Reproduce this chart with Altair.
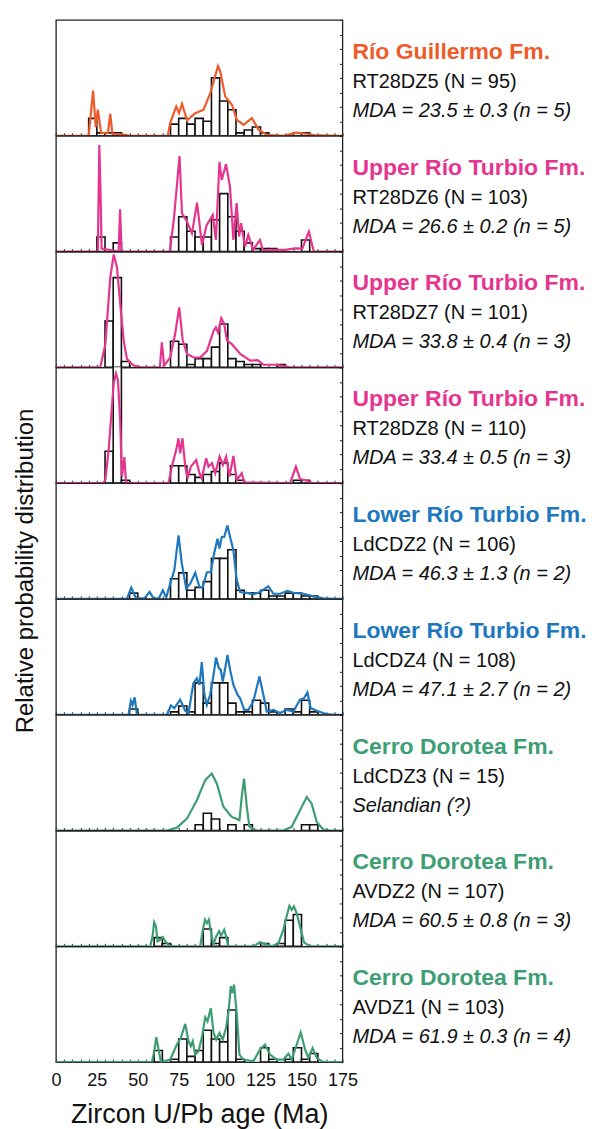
import altair as alt
import pandas as pd

FONT = "Liberation Sans"

# ---------------- panel annotations ----------------
formations = ["Río Guillermo Fm.", "Upper Río Turbio Fm.", "Upper Río Turbio Fm.",
              "Upper Río Turbio Fm.", "Lower Río Turbio Fm.", "Lower Río Turbio Fm.",
              "Cerro Dorotea Fm.", "Cerro Dorotea Fm.", "Cerro Dorotea Fm."]
samples = ["RT28DZ5 (N = 95)", "RT28DZ6 (N = 103)", "RT28DZ7 (N = 101)",
           "RT28DZ8 (N = 110)", "LdCDZ2 (N = 106)", "LdCDZ4 (N = 108)",
           "LdCDZ3 (N = 15)", "AVDZ2 (N = 107)", "AVDZ1 (N = 103)"]
notes = ["MDA = 23.5 ± 0.3 (n = 5)", "MDA = 26.6 ± 0.2 (n = 5)", "MDA = 33.8 ± 0.4 (n = 3)",
         "MDA = 33.4 ± 0.5 (n = 3)", "MDA = 46.3 ± 1.3 (n = 2)", "MDA = 47.1 ± 2.7 (n = 2)",
         "Selandian (?)", "MDA = 60.5 ± 0.8 (n = 3)", "MDA = 61.9 ± 0.3 (n = 4)"]
ORANGE, PINK, BLUE, GREEN = "#F05A28", "#E5358F", "#1E78BE", "#3E9E73"
colors = [ORANGE, PINK, PINK, PINK, BLUE, BLUE, GREEN, GREEN, GREEN]

BIN_WIDTH = 5

# ---------------- RT28DZ5 ----------------
rt28dz5_age = [0, 20, 22.7, 24.3, 25.6, 27.6, 30.5, 31.8, 33.2, 34.5, 42.6, 45, 68.3, 69.8, 73.5, 75.2,
               77.0, 80.1, 85.1, 90.2, 94.3, 99.0, 100.4, 103.4, 107.5, 110.5, 114.6, 119.7, 123.8,
               128.8, 139, 147, 153, 159, 175]
rt28dz5_pdp = [0, 0, 15.6, 3, 9, 1, 0.8, 1, 7.6, 0.7, 0.3, 0, 0, 4.4, 10.1, 7.8,
               11, 5.3, 7.8, 9, 14.7, 24.1, 22.2, 13.6, 10.7, 5.5, 3.8, 6.1, 2.1,
               0.3, 0, 1.1, 0.7, 0.1, 0]
rt28dz5_bins = [20, 25, 30, 35, 70, 75, 80, 85, 90, 95, 100, 105, 110, 115, 120, 125, 145, 150]
rt28dz5_counts = [6, 1, 1, 1, 4, 6, 4, 6, 5, 20, 12, 9, 1, 2, 3, 1, 1, 1]

# ---------------- RT28DZ6 ----------------
rt28dz6_age = [0, 25.6, 26.5, 27.2, 27.9, 38.3, 39.2, 40.1, 69.5, 72, 75.5, 77, 80.1, 83.1, 86.2,
               89.2, 92.0, 95.8, 97.7, 99.9, 101.3, 103.9, 106.3, 108.4, 110.4, 111.9, 113.1,
               115.5, 117.5, 120.5, 124.6, 126.6, 130, 140, 146, 150.5, 154.5, 157.5, 175]
rt28dz6_pdp = [0, 0, 36.8, 22, 1, 0, 14.6, 0, 0, 10.9, 33, 13.2, 10.3, 6.3, 16.9,
               2.3, 9, 12.6, 4, 31, 24.7, 30.2, 22.4, 4, 16.7, 5.2, 9.8,
               1.7, 5.7, 0.6, 4, 0.2, 0.6, 0.6, 1.1, 1, 6.9, 0, 0]
rt28dz6_bins = [25, 35, 70, 75, 80, 85, 90, 95, 100, 105, 110, 115, 120, 125, 130, 150]
rt28dz6_counts = [5, 3, 5, 12, 7, 5, 5, 11, 20, 12, 7, 3, 1, 1, 1, 4]

# ---------------- RT28DZ7 ----------------
rt28dz7_age = [0, 27.1, 30.2, 33.2, 35.3, 37.3, 39.3, 41.4, 43.4, 47.5, 52, 63.5, 64.7, 66.1,
               69.8, 72.8, 75.3, 77.5, 80.1, 84.1, 88.2, 92.3, 96.3, 97.7, 99, 101, 102.8,
               104.5, 107.5, 112.6, 118.7, 123.2, 126.8, 135, 143, 175]
rt28dz7_pdp = [0, 0, 8, 31, 39, 34.5, 21.8, 9.2, 2.9, 0.6, 0, 0, 8.6, 0.6,
               3.4, 11.5, 20.7, 9.2, 4.6, 3.4, 3.4, 5.7, 12.6, 13.8, 12, 17, 15,
               9.2, 8, 4.6, 2.3, 2.5, 0.9, 0.9, 0, 0]
rt28dz7_bins = [30, 35, 40, 70, 75, 80, 85, 90, 95, 100, 105, 110, 115, 120, 135]
rt28dz7_counts = [16, 31, 2, 9, 8, 1, 3, 3, 7, 15, 3, 2, 1, 1, 1]

# ---------------- RT28DZ8 ----------------
rt28dz8_age = [0, 29, 30.2, 32.2, 33.6, 35.3, 36.7, 37.9, 39.3, 40.3, 41.8, 42.8, 44, 68.8, 70.8,
               73.5, 74.9, 75.9, 77.3, 79, 80.4, 82.4, 85.7, 87.7, 89.1, 91.8, 93.2, 95.3, 97.3,
               100, 102, 104, 106, 108.4, 110.5, 113.5, 115, 143, 146.6, 149.1, 153.1, 157.2, 175]
rt28dz8_pdp = [0, 0, 1.1, 11.5, 21.8, 34.5, 37.9, 35.6, 20.7, 2.3, 9, 0.6, 0, 0, 5.7,
               11.5, 15.5, 10.3, 15.5, 5.7, 1.7, 5.7, 8, 3.4, 1.7, 8.6, 5.7, 6.9, 3.4,
               9.2, 6.3, 9.2, 2.3, 9.4, 1.1, 3.4, 0.2, 0, 5.7, 1.4, 0.9, 0, 0]
rt28dz8_bins = [30, 35, 40, 70, 75, 80, 85, 90, 95, 100, 105, 110, 145, 150]
rt28dz8_counts = [11, 45, 1, 6, 6, 3, 2, 3, 4, 7, 3, 1, 1, 1]

# ---------------- LdCDZ2 ----------------
ldcdz2_age = [0, 43.4, 46, 48.5, 50, 54, 57.2, 59.7, 63, 65.3, 67.4, 69.8, 72.3, 74.9, 76.9, 79.6,
              82, 85.1, 87.7, 89.7, 92.2, 94.6, 96.6, 98.7, 99.9, 101.3, 102.8, 104.8, 106.4,
              108.4, 110.5, 112.5, 116.6, 120.6, 124.7, 129.8, 132.8, 137, 141.4, 145, 151.1,
              157.2, 163.3, 169.4, 175]
ldcdz2_pdp = [0, 0, 3.9, 0.7, 0.3, 0.2, 2.4, 0.1, 0.3, 3, 0.5, 5.3, 9.9, 22, 12.2, 3.6,
              5.3, 9, 4.1, 4.1, 9.2, 9.3, 15.6, 20.8, 17.4, 21.4, 21.4, 25.4, 21.4,
              16.8, 6.4, 2.4, 2.1, 1.6, 2.4, 4.4, 1.8, 1.8, 2.8, 2.1, 1.8,
              0.9, 0.2, 0, 0]
ldcdz2_bins = [45, 70, 75, 80, 85, 90, 95, 100, 105, 110, 115, 120, 125, 130, 135, 140, 145, 150, 155]
ldcdz2_counts = [2, 7, 9, 3, 4, 6, 14, 14, 17, 3, 2, 2, 3, 1, 1, 2, 2, 1, 1]

# ---------------- LdCDZ4 ----------------
ldcdz4_age = [0, 44.4, 45.8, 46.8, 48.1, 49.5, 67.8, 70.2, 72.3, 75.9, 79, 81, 84, 86.1, 87.7,
              89.1, 90.7, 92.2, 94.2, 96.3, 97.8, 99.5, 100.7, 101.9, 103.4, 104.8, 106.4, 108.4,
              110.9, 112.5, 115, 117.6, 120.6, 124.3, 126.7, 128.8, 132.8, 136.9, 141, 145,
              149.1, 151.5, 153.6, 155.6, 159.3, 165.4, 170, 175]
ldcdz4_pdp = [0, 0, 4.8, 3.4, 6, 0, 0, 3.2, 2.3, 5.2, 1.4, 0.6, 10.9, 12.6, 10.3,
              18.2, 6.9, 3.4, 6.9, 13.8, 19.8, 16.1, 15.5, 11.5, 16.1, 20.7, 15.5, 10.3,
              6.9, 5.7, 1.7, 1.7, 4.6, 13.2, 6.9, 1.1, 1.7, 0.6, 1.7, 1.1,
              5.2, 5.7, 7.7, 2.3, 1.4, 0.2, 0, 0]
ldcdz4_bins = [45, 70, 75, 80, 85, 90, 95, 100, 105, 110, 115, 120, 125, 130, 140, 145, 150, 155]
ldcdz4_counts = [2, 1, 3, 1, 11, 4, 11, 11, 4, 1, 1, 5, 4, 1, 2, 1, 5, 1]

# ---------------- LdCDZ3 ----------------
ldcdz3_age = [0, 67.8, 73.9, 80, 86.1, 91.2, 95.2, 98.3, 102.3, 107.4, 112.1, 113.5, 114.9, 116.6,
              118.2, 122.7, 139, 144, 148.1, 153.2, 156.2, 159.3, 163.4, 167.5, 175]
ldcdz3_pdp = [0, 0, 1, 4.1, 10.5, 17.4, 19.7, 16.2, 8.2, 4.7, 3.6, 11.6, 17.9, 8.2,
              1.3, 0, 0, 1.3, 5.9, 11.6, 9.3, 3, 0.3, 0, 0]
ldcdz3_bins = [85, 90, 95, 105, 115, 150, 155]
ldcdz3_counts = [2, 6, 4, 2, 2, 2, 2]

# ---------------- AVDZ2 ----------------
avdz2_age = [0, 57.6, 59, 60, 61.1, 62.1, 63.7, 65.3, 66.8, 68.8, 70.5, 88.1, 89.7, 91.1, 92.2,
             93.4, 94.8, 96.2, 97.9, 99.7, 100.9, 102.8, 104, 105.2, 120.6, 124.7, 128.8, 132,
             135.9, 138.9, 140.9, 142.6, 144, 145.4, 147, 149.1, 151.5, 155.2, 175]
avdz2_pdp = [0, 0, 3.4, 8.3, 6.9, 1.7, 2.3, 3.2, 1.7, 0.6, 0, 0, 5.7, 9.2, 8,
             9.2, 4.6, 0.6, 3.4, 5.2, 3.7, 5.7, 3.4, 0, 0, 1.4, 0.6, 0,
             1.1, 5.7, 10.3, 14, 12.6, 13.8, 11.5, 6.9, 1.4, 0, 0]
avdz2_bins = [60, 65, 90, 95, 100, 125, 135, 140, 145]
avdz2_counts = [3, 1, 6, 1, 3, 1, 1, 9, 11]

# ---------------- AVDZ1 ----------------
avdz1_age = [0, 58.6, 60.1, 61.3, 62.7, 64.1, 69.8, 73.9, 76.3, 79, 81, 82.4, 83.6, 85.1, 87.1,
             89.1, 91.2, 92.6, 94.6, 96.3, 97.9, 99.9, 101.9, 103.9, 105.6, 106.8, 107.8, 108.8,
             110.5, 112.1, 114.5, 120.6, 124.7, 127.7, 130.8, 134.8, 138.9, 142, 144, 147.1,
             149.5, 152.2, 154.2, 156.8, 159.3, 163.3, 175]
avdz1_pdp = [0, 0, 3.8, 8.6, 4.4, 0, 0.9, 6.1, 8.4, 13.2, 7.2, 5.5, 7.2, 2.6, 3.8,
             8.4, 15.5, 14.1, 18.7, 10.1, 7.8, 10.1, 7.8, 11.8, 18.2, 26.2, 23.9, 26.8,
             16.4, 2.6, 0.9, 0.3, 4.4, 6.1, 2.6, 0.9, 0.9, 2.9, 0.9, 6.1,
             10.3, 4.4, 1.5, 4.9, 1.5, 0, 0]
avdz1_bins = [60, 70, 75, 80, 85, 90, 95, 100, 105, 110, 125, 130, 140, 145, 150, 155]
avdz1_counts = [4, 1, 8, 2, 4, 11, 8, 7, 18, 1, 5, 1, 1, 5, 1, 3]

series = [
    (rt28dz5_age, rt28dz5_pdp, rt28dz5_bins, rt28dz5_counts),
    (rt28dz6_age, rt28dz6_pdp, rt28dz6_bins, rt28dz6_counts),
    (rt28dz7_age, rt28dz7_pdp, rt28dz7_bins, rt28dz7_counts),
    (rt28dz8_age, rt28dz8_pdp, rt28dz8_bins, rt28dz8_counts),
    (ldcdz2_age, ldcdz2_pdp, ldcdz2_bins, ldcdz2_counts),
    (ldcdz4_age, ldcdz4_pdp, ldcdz4_bins, ldcdz4_counts),
    (ldcdz3_age, ldcdz3_pdp, ldcdz3_bins, ldcdz3_counts),
    (avdz2_age, avdz2_pdp, avdz2_bins, avdz2_counts),
    (avdz1_age, avdz1_pdp, avdz1_bins, avdz1_counts),
]

W, H = 287, 116
x_ticks = list(range(0, 176, 5))
y_ticks = list(range(0, 41, 5))
xs = alt.Scale(domain=[0, 175], nice=False, zero=False)
ys = alt.Scale(domain=[0, 40], nice=False)

panels = []
n = len(series)
for i, (ages, pdp, bins, counts) in enumerate(series):
    last = i == n - 1
    c = colors[i]
    curve = pd.DataFrame({"age": ages, "prob": pdp})
    hist = pd.DataFrame({"start": bins, "count": counts})
    hist["end"] = hist["start"] + BIN_WIDTH
    ann = pd.DataFrame({"formation": [formations[i]], "sample": [samples[i]], "note": [notes[i]]})

    if last:
        xaxis = alt.Axis(values=x_ticks, tickSize=3, offset=-3, domain=False, grid=False,
                         labels=True, labelExpr="datum.value % 25 === 0 ? datum.label : ''",
                         labelOverlap=False, labelFlush=False,
                         labelFontSize=18, labelFont=FONT, labelColor="#111", labelPadding=9,
                         title="Zircon U/Pb age (Ma)", titleFontSize=27, titleFont=FONT,
                         titleFontWeight="normal", titleColor="#111", titlePadding=12)
    else:
        xaxis = alt.Axis(values=x_ticks, tickSize=3, offset=-3, domain=False, grid=False,
                         labels=False, title=None)
    yaxis = alt.Axis(orient="right", values=y_ticks, tickSize=3, offset=-3, domain=False,
                     grid=False, labels=False, title=None)

    bars = alt.Chart(hist).mark_rect(fill="white", stroke="#111", strokeWidth=1.6, clip=True).encode(
        x=alt.X("start:Q", scale=xs, axis=xaxis),
        x2="end:Q",
        y=alt.Y("count:Q", scale=ys, axis=yaxis),
        y2=alt.datum(0),
    )
    line = alt.Chart(curve).mark_line(color=c, strokeWidth=2.2, clip=True).encode(
        x=alt.X("age:Q", scale=xs, axis=xaxis),
        y=alt.Y("prob:Q", scale=ys, axis=yaxis),
    )
    t1 = alt.Chart(ann).mark_text(align="left", baseline="alphabetic", fontSize=23,
                                  fontWeight="bold", font=FONT, color=c).encode(
        x=alt.value(W + 10), y=alt.value(39), text="formation:N")
    t2 = alt.Chart(ann).mark_text(align="left", baseline="alphabetic", fontSize=20,
                                  font=FONT, color="#111").encode(
        x=alt.value(W + 10), y=alt.value(68), text="sample:N")
    t3 = alt.Chart(ann).mark_text(align="left", baseline="alphabetic", fontSize=20,
                                  fontStyle="italic", font=FONT, color="#111").encode(
        x=alt.value(W + 10), y=alt.value(97), text="note:N")
    layers = [bars, line, t1, t2, t3]
    if i == 4:
        ytitle = alt.Chart(pd.DataFrame({"t": ["Relative probability distribution"]})).mark_text(
            angle=270, fontSize=24, font=FONT, color="#111", align="center", baseline="middle").encode(
            x=alt.value(-29.5), y=alt.value(88), text="t:N")
        layers.append(ytitle)
    panels.append(alt.layer(*layers).properties(width=W, height=H))

chart = alt.vconcat(*panels, spacing=0, bounds="flush").properties(
    padding={"left": 5, "top": 9, "right": 0, "bottom": 4}
).configure_view(stroke="#222", strokeWidth=1.3).configure_axis(
    tickColor="#222", tickWidth=1
)

chart.save("out.html", embed_options={"renderer": "svg", "actions": False})
